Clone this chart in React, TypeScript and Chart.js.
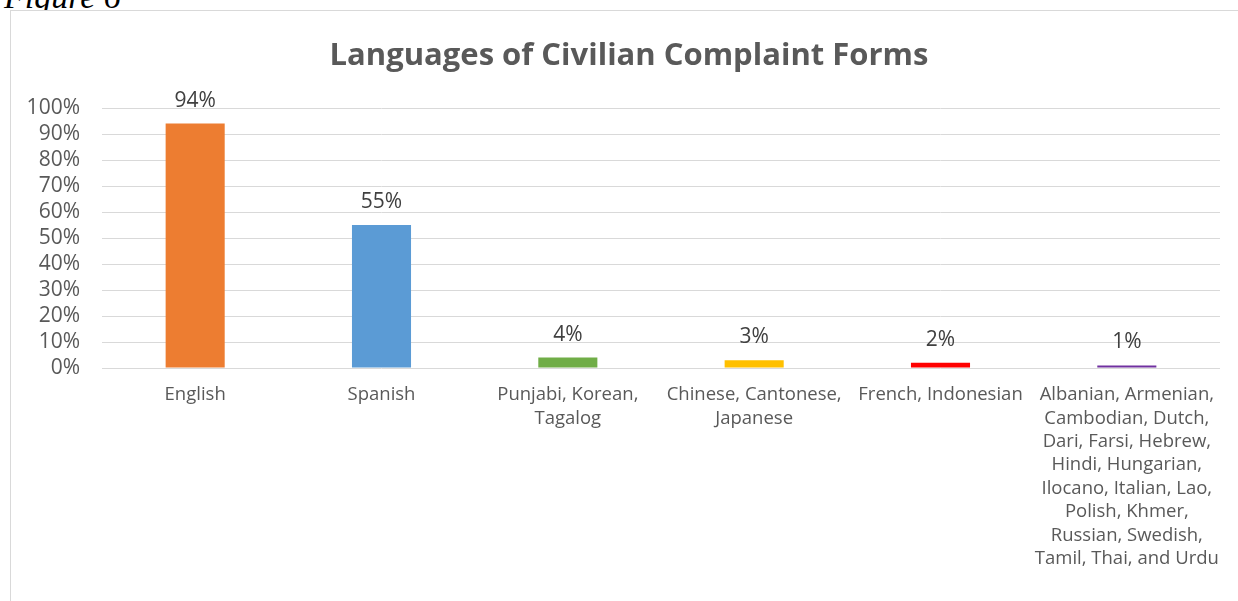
import React, { useEffect, useRef } from "react";
import { Chart, registerables } from "chart.js";

Chart.register(...registerables);

const categories: string[][] = [
  ["English"],
  ["Spanish"],
  ["Punjabi, Korean,", "Tagalog"],
  ["Chinese, Cantonese,", "Japanese"],
  ["French, Indonesian"],
  [
    "Albanian, Armenian,",
    "Cambodian, Dutch,",
    "Dari, Farsi, Hebrew,",
    "Hindi, Hungarian,",
    "Ilocano, Italian, Lao,",
    "Polish, Khmer,",
    "Russian, Swedish,",
    "Tamil, Thai, and Urdu",
  ],
];
const values: number[] = [94, 55, 4, 3, 2, 1];
const barColors: string[] = ["#ED7D31", "#5B9BD5", "#70AD47", "#FFC000", "#FF0000", "#7030A0"];
const yTicks: number[] = [0, 10, 20, 30, 40, 50, 60, 70, 80, 90, 100];
const titleText = "Languages of Civilian Complaint Forms";
const FONT = "'Open Sans', sans-serif";

const dataLabels = {
  id: "dataLabels",
  afterDatasetsDraw(chart: any) {
    const ctx = chart.ctx;
    const meta = chart.getDatasetMeta(0);
    ctx.save();
    ctx.font = `21px ${FONT}`;
    ctx.fillStyle = "#404040";
    ctx.textAlign = "center";
    ctx.textBaseline = "alphabetic";
    meta.data.forEach((bar: any, i: number) => {
      ctx.fillText(values[i] + "%", bar.x, bar.y - 17);
    });
    ctx.restore();
  },
};

export default function App() {
  const ref = useRef<HTMLCanvasElement>(null);
  useEffect(() => {
    if (!ref.current) return;
    const chart = new Chart(ref.current, {
      type: "bar",
      data: {
        labels: categories,
        datasets: [
          {
            data: values,
            backgroundColor: barColors,
            barPercentage: 0.317,
            categoryPercentage: 1,
          },
        ],
      },
      options: {
        animation: false,
        responsive: false,
        maintainAspectRatio: false,
        layout: { padding: { left: 0, right: 29, top: 97, bottom: 0 } },
        plugins: {
          legend: { display: false },
          tooltip: { enabled: false },
          title: { display: false },
        },
        scales: {
          x: {
            grid: { display: false, drawTicks: false },
            border: { display: false },
            ticks: {
              color: "#595959",
              font: { family: FONT, size: 18.5, lineHeight: 1.27 },
              padding: 15,
              autoSkip: false,
              maxRotation: 0,
              minRotation: 0,
            },
            afterFit: (scale: any) => {
              scale.height = 233;
            },
          },
          y: {
            min: 0,
            max: 100,
            afterBuildTicks: (scale: any) => {
              scale.ticks = yTicks.map((v) => ({ value: v }));
            },
            grid: { color: "#D9D9D9", lineWidth: 1, drawTicks: false },
            border: { display: false },
            ticks: {
              color: "#595959",
              font: { family: FONT, size: 21 },
              padding: 22,
              autoSkip: false,
              callback: (v: any) => v + "%",
            },
            afterFit: (scale: any) => {
              scale.width = 91;
            },
          },
        },
      },
      plugins: [dataLabels],
    });
    return () => chart.destroy();
  }, []);

  return (
    <div
      style={{
        position: "fixed",
        left: 0,
        top: 0,
        width: 1238,
        height: 601,
        overflow: "hidden",
        background: "#ffffff",
      }}
    >
      <div
        style={{
          position: "absolute",
          left: 4,
          top: -22,
          fontFamily: "'Liberation Serif', 'Times New Roman', serif",
          fontStyle: "italic",
          fontSize: 34,
          lineHeight: "38px",
          color: "#000",
          whiteSpace: "nowrap",
        }}
      >
        Figure 6
      </div>
      <div
        style={{
          position: "absolute",
          left: 10,
          top: 10,
          width: 1238,
          height: 600,
          border: "1px solid #D9D9D9",
          background: "#ffffff",
        }}
      >
        <canvas ref={ref} width={1238} height={590} style={{ display: "block", width: 1238, height: 590 }} />
      </div>
      <div
        style={{
          position: "absolute",
          left: 0,
          top: 33,
          width: 1258,
          textAlign: "center",
          fontFamily: FONT,
          fontWeight: "bold",
          fontSize: 31,
          lineHeight: "40px",
          color: "#595959",
          whiteSpace: "nowrap",
        }}
      >
        {titleText}
      </div>
    </div>
  );
}
